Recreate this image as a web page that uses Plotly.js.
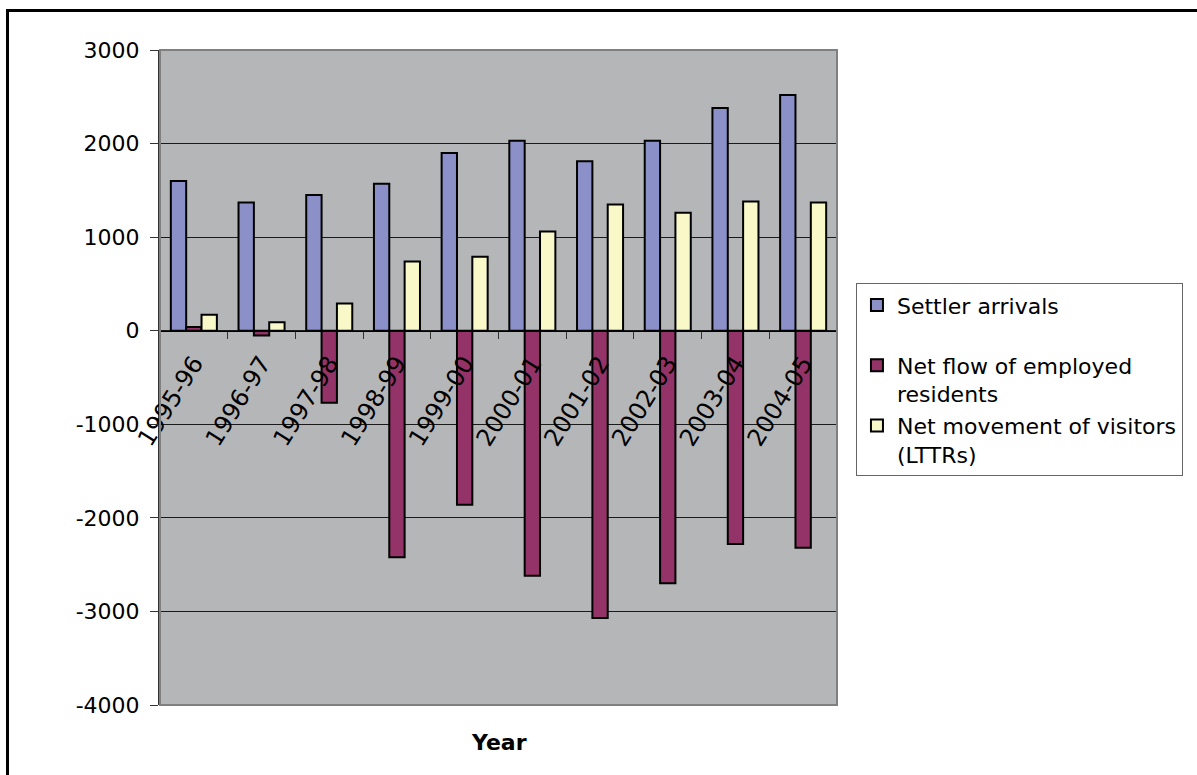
<!DOCTYPE html>
<html>
<head>
<meta charset="utf-8">
<script src="https://cdn.plot.ly/plotly-3.0.1.min.js"></script>
<style>
  html, body { margin: 0; padding: 0; background: #ffffff; }
  #wrap { position: relative; width: 1197px; height: 775px; overflow: hidden; }
  #chart { position: absolute; left: 0; top: 0; width: 1197px; height: 775px; }
  #frame { position: absolute; left: 6px; top: 9px; width: 1300px; height: 900px;
           border-left: 3px solid #000; border-top: 3px solid #000; pointer-events: none; }
</style>
</head>
<body>
<div id="wrap">
  <div id="chart"></div>
  <div id="frame"></div>
</div>
<script>
const years = ["1995-96","1996-97","1997-98","1998-99","1999-00","2000-01","2001-02","2002-03","2003-04","2004-05"];
const settlerArrivals = [1600, 1370, 1450, 1570, 1900, 2030, 1810, 2030, 2380, 2520];
const netFlowEmployed = [40, -50, -770, -2420, -1860, -2620, -3070, -2700, -2280, -2320];
const netMovementVisitors = [170, 90, 290, 740, 790, 1060, 1350, 1260, 1380, 1370];
const seriesNames = ["Settler arrivals<br> ", "Net flow of employed<br>residents", "Net movement of visitors<br>(LTTRs)"];
const yTicks = [3000, 2000, 1000, 0, -1000, -2000, -3000, -4000];

const FONT = "DejaVu Sans, Verdana, sans-serif";
const yMin = -4000, yMax = 3000;

const lineStyle = {color: "#000000", width: 2};
const traces = [
  {type: "bar", name: seriesNames[0], x: years, y: settlerArrivals,
   marker: {color: "#8C90C8", line: lineStyle}},
  {type: "bar", name: seriesNames[1], x: years, y: netFlowEmployed,
   marker: {color: "#933367", line: lineStyle}},
  {type: "bar", name: seriesNames[2], x: years, y: netMovementVisitors,
   marker: {color: "#F8F8C8", line: lineStyle}}
];

const layout = {
  width: 1197, height: 775,
  margin: {l: 160, r: 360, t: 50, b: 70, pad: 0},
  paper_bgcolor: "#ffffff",
  plot_bgcolor: "#B5B6B8",
  font: {family: FONT, size: 22, color: "#000000"},
  barmode: "group",
  bargap: 0.32,
  bargroupgap: 0,
  showlegend: true,
  legend: {
    x: 1.028, y: 0.644, xanchor: "left", yanchor: "top",
    bgcolor: "#ffffff", bordercolor: "#666666", borderwidth: 1,
    font: {family: FONT, size: 22, color: "#000000"},
    valign: "top", traceorder: "normal",
    itemwidth: 30
  },
  xaxis: {
    type: "category",
    anchor: "free",
    position: (0 - yMin) / (yMax - yMin),
    showline: true, linecolor: "#000000", linewidth: 1,
    ticks: "outside", tickson: "boundaries", ticklen: 7, tickcolor: "#333333", tickwidth: 1,
    tickangle: -58,
    ticklabelstandoff: 8,
    tickfont: {family: FONT, size: 24, color: "#000000"},
    showgrid: false, zeroline: false,
    fixedrange: true
  },
  yaxis: {
    range: [yMin, yMax],
    tickvals: yTicks,
    ticktext: yTicks.map(String),
    showline: true, linecolor: "#333333", linewidth: 2,
    ticks: "outside", ticklen: 8, tickcolor: "#333333", tickwidth: 1,
    ticklabelstandoff: 6,
    showgrid: true, gridcolor: "#1a1a1a", gridwidth: 1,
    zeroline: false,
    tickfont: {family: FONT, size: 22, color: "#000000"},
    fixedrange: true
  },
  shapes: [
    {type: "rect", xref: "paper", yref: "paper", x0: 0, x1: 1, y0: 0, y1: 1,
     line: {color: "#808080", width: 2}, fillcolor: "rgba(0,0,0,0)", layer: "above"}
  ],
  annotations: [
    {text: "<b>Year</b>", xref: "paper", yref: "paper", x: 0.5, y: -0.058,
     xanchor: "center", yanchor: "middle", showarrow: false,
     font: {family: FONT, size: 22, color: "#000000"}}
  ]
};

Plotly.newPlot("chart", traces, layout, {displayModeBar: false, staticPlot: true});
</script>
</body>
</html>
